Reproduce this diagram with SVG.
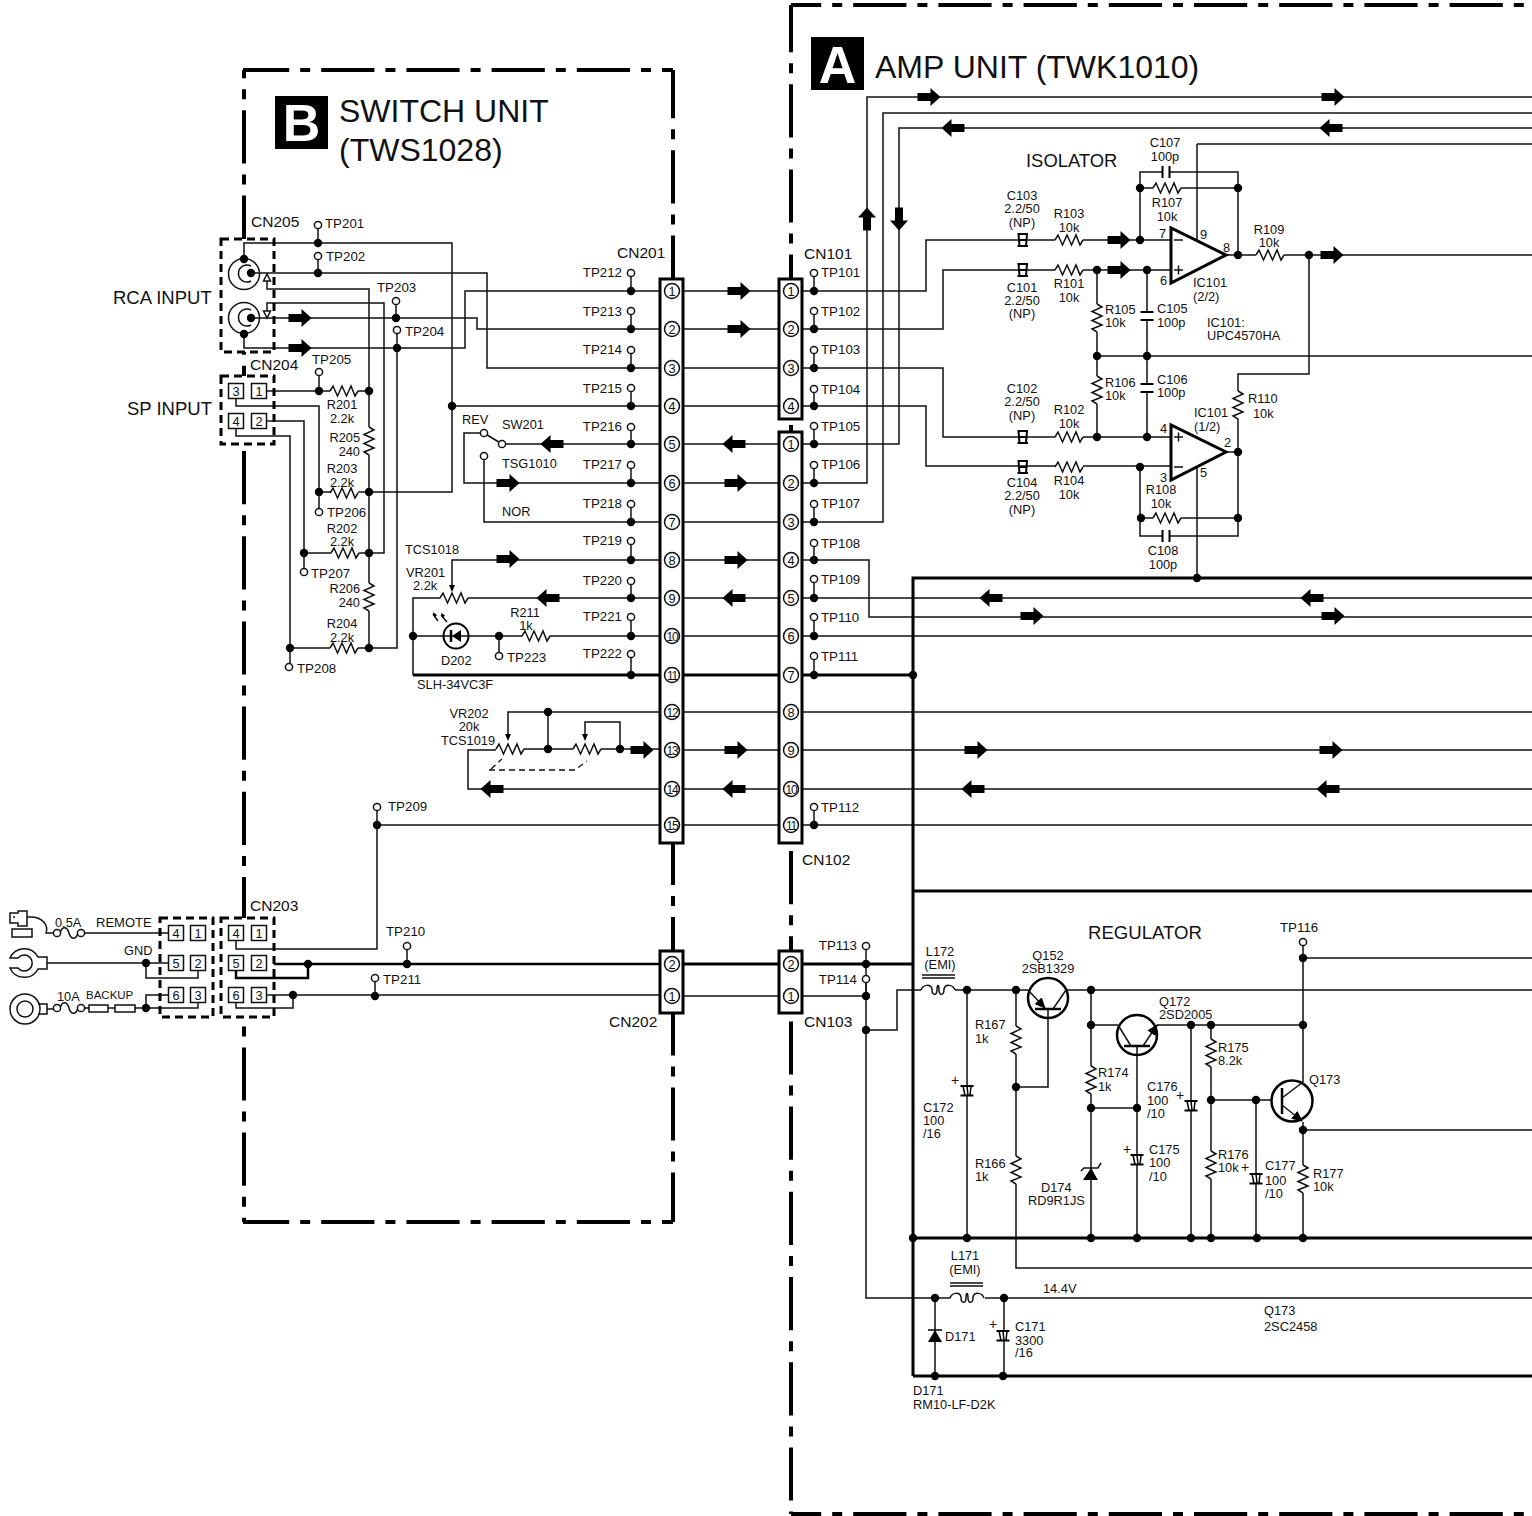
<svg xmlns="http://www.w3.org/2000/svg" width="1532" height="1516" viewBox="0 0 1532 1516">
<style>
text{font-family:"Liberation Sans",Arial,sans-serif;font-size:12.800px;fill:#111}
.tp{font-size:13.300px}
.m{text-anchor:middle}
.e{text-anchor:end}
.cn{font-size:15.500px}
.big{font-size:18.400px}
.ttl{font-size:32px}
.pin{font-size:12.800px;text-anchor:middle}
.pin2{font-size:12px;text-anchor:middle;letter-spacing:-1.200px}
.w{fill:none;stroke:#111;stroke-width:1.500}
.t{fill:none;stroke:#000;stroke-width:3}
.fr{fill:none;stroke:#000;stroke-width:4;stroke-dasharray:53.200 11 10 11}
.db{fill:none;stroke:#000;stroke-width:3;stroke-dasharray:8 5}
.box{fill:none;stroke:#000;stroke-width:3}
.pb{fill:#fff;stroke:#111;stroke-width:1.500}
.oa{fill:#fff;stroke:#000;stroke-width:3;stroke-linejoin:miter}
.tr{fill:none;stroke:#000;stroke-width:2.500}
.dash{fill:none;stroke:#111;stroke-width:1.300;stroke-dasharray:6 4}
.ltr{font-size:52px;font-weight:bold;fill:#fff;text-anchor:middle}
</style>
<defs>
<circle id="d" r="4.200" fill="#000"/>
<circle id="o" r="3.600" fill="#fff" stroke="#111" stroke-width="1.500"/>
<circle id="p" r="7.500" fill="#fff" stroke="#111" stroke-width="1.500"/>
<path id="a" d="M-11.500-4H1.500V-9L11.500 0 1.500 9V4H-11.500Z" fill="#000"/>
<g id="r"><rect x="-14" y="-2" width="28" height="4" fill="#fff"/><path class="w" d="M-14 0l3-5 4.500 10 4.500-10 4.500 10 4.500-10 4 10 3-5"/></g>
<g id="np"><path d="M-4.500-6L-3.500 6M4-6L3 6M-5.500-6H5M-4 0H4M-5.500 6H5" fill="none" stroke="#000" stroke-width="2"/></g>
<g id="pc"><rect x="-6.500" y="-5" width="13" height="10" fill="#fff"/><path d="M-6.500-5H6.500M-6.500 4.500H6.500" fill="none" stroke="#000" stroke-width="2.200"/><path d="M-4-5L-2 4.500M0-5L1 4.500M4-5L3 4.500" fill="none" stroke="#000" stroke-width="1.500"/></g>
<g id="ch"><rect x="-3.500" y="-3" width="7" height="6" fill="#fff"/><path d="M-3.500-6V6M3.500-6V6" fill="none" stroke="#000" stroke-width="2"/></g>
<g id="cv"><rect x="-3" y="-4" width="6" height="8" fill="#fff"/><path d="M-6.500-4H6.500M-6.500 4H6.500" fill="none" stroke="#000" stroke-width="2"/></g>
<path id="coil" class="w" d="M-17 0C-15-6-7-6-6-1C-6 6-1 6-1 0C-1-6 1-6 1 0C1 6 6 6 6-1C7-6 15-6 17 0"/>
<marker id="ah" markerWidth="12" markerHeight="10" refX="10" refY="5" orient="auto" markerUnits="userSpaceOnUse"><path d="M0 0L11 5 0 10Z" fill="#000"/></marker>
</defs>

<g id="frames">
<path class="fr" d="M791 5H1532" stroke-dashoffset="23"/>
<path class="fr" d="M791 5V1514" stroke-dashoffset="6"/>
<path class="fr" d="M791 1514H1532" stroke-dashoffset="23"/>
<path class="fr" d="M243 70H673" stroke-dashoffset="7"/>
<path class="fr" d="M244 70V1222" stroke-dashoffset="45"/>
<path class="fr" d="M673 70V1222" stroke-dashoffset="5"/>
<path class="fr" d="M243 1222H673" stroke-dashoffset="7"/>
<g fill="#fff">
<rect x="221" y="239" width="53" height="113"/><rect x="221" y="376" width="53" height="68"/><rect x="221" y="918" width="53" height="99"/>
<rect x="660" y="279" width="23" height="564"/><rect x="660" y="951" width="23" height="62"/>
<rect x="779" y="279" width="23" height="140"/><rect x="779" y="432" width="23" height="411"/><rect x="779" y="951" width="23" height="62"/>
</g>
</g>

<g id="title-A"><rect x="811" y="37" width="53" height="53" fill="#000"/><text x="837.500" y="83" class="ltr">A</text><text x="875" y="78" class="ttl">AMP UNIT (TWK1010)</text></g>
<g id="title-B"><rect x="275" y="96" width="53" height="53" fill="#000"/><text x="301.500" y="141" class="ltr">B</text><text x="339" y="122" class="ttl">SWITCH UNIT</text><text x="339" y="161" class="ttl">(TWS1028)</text></g>

<g id="connectors">
<path class="w" d="M244 259V243H452V492H369M452 406H660M251 273H487V368H660M267 281V289H369V492M267 311V303H384V553H369M251 318H477V329H660M244 334V348H465V291H660"/>
<path class="w" d="M267 391H369M236 399V406H319V492H369M267 421H304V553H369M236 429V436H290V648H369M369 492V648M397 348V648H369"/>
<path class="w" d="M503 444H660M484 433H464V483H660M484 456V522H660M452 590V560H660M440 598H660M440 598H413V675M413 636H443M469 636H660"/>
<path class="t" d="M413 675H660"/>
<path class="w" d="M660 712H508V739M548 712V749M497 750H468V789H660M523 749H574M600 749H660M585 739V722H620V749"/>
<path class="w" d="M377 825H660M377 825V949H236V941"/>
<path class="w" d="M683 291H779M683 329H779M683 368H779M683 406H779M683 444H779M683 483H779M683 522H779M683 560H779M683 598H779M683 636H779M683 712H779M683 750H779M683 789H779M683 825H779M683 996H779"/>
<path class="t" d="M683 675H779M683 964H779"/>
<path class="w" d="M802 291H926V240H1171M802 329H943V270H1171M802 368H943V437H1171M802 406H926V466H1171M802 444H899V128H1532M802 483H867V97H1532M802 522H883V113H1532"/>
<path class="w" d="M802 560H869V617H1532M802 598H1532M802 636H1532M802 712H1532M802 750H1532M802 789H1532M802 825H1532"/>
<path class="t" d="M802 675H913M802 964H913M913 1376V578H1532M913 891H1532M913 1238H1532M913 1376H1532"/>
<path class="w" d="M1140 240V172H1238V255M1140 188H1238M1197 144H1532M1197 144V244M1226 255H1532M1309 255V374H1238V452M1097 270V437M1147 270V437M1097 356H1532"/>
<path class="w" d="M1197 466V578M1226 452H1238V536H1140V467M1140 518H1238"/>
<path class="t" d="M274 964H660M236 971V978H308V964" style="stroke-width:2.500"/>
<path class="w" d="M267 995H660M236 1003V1008H293V995"/>
<path class="w" d="M85 933H168M47 963H168M146 963V978H198V971M47 1009H53M85 1008H89M108 1008H115M135 1008H146V995H168M146 1008H198V1003"/>
<path class="w" d="M802 996H866M866 964V1298H950M866 1030H897V990H921M985 1298H1532M955 990H1028M1066 990H1532M1016 990V1268H1532M1048 1009V1087H1016M967 990V1238M1091 990V1238M1091 1025H1118M1157 1025H1303M1137 1046V1238M1091 1108H1137M1191 1025V1238M1211 1025V1238M1211 1100H1271M1256 1100V1238M1303 958V1082M1303 958H1532M1303 1122V1238M1303 1130H1532M935 1298V1376M1004 1298V1376"/>
<g id="junctions">
<use href="#d" x="318" y="243"/><use href="#d" x="318" y="273"/><use href="#d" x="396" y="318"/><use href="#d" x="397" y="348"/><use href="#d" x="452" y="406"/>
<use href="#d" x="319" y="391"/><use href="#d" x="369" y="391"/><use href="#d" x="319" y="492"/><use href="#d" x="369" y="492"/><use href="#d" x="304" y="553"/><use href="#d" x="369" y="553"/><use href="#d" x="290" y="648"/><use href="#d" x="369" y="648"/>
<use href="#d" x="631" y="291"/><use href="#d" x="631" y="329"/><use href="#d" x="631" y="368"/><use href="#d" x="631" y="406"/><use href="#d" x="631" y="444"/><use href="#d" x="631" y="483"/><use href="#d" x="631" y="522"/><use href="#d" x="631" y="560"/><use href="#d" x="631" y="598"/><use href="#d" x="631" y="636"/><use href="#d" x="631" y="675"/>
<use href="#d" x="814" y="291"/><use href="#d" x="814" y="329"/><use href="#d" x="814" y="368"/><use href="#d" x="814" y="406"/><use href="#d" x="814" y="444"/><use href="#d" x="814" y="483"/><use href="#d" x="814" y="522"/><use href="#d" x="814" y="560"/><use href="#d" x="814" y="598"/><use href="#d" x="814" y="636"/><use href="#d" x="814" y="675"/><use href="#d" x="814" y="825"/>
<use href="#d" x="413" y="636"/><use href="#d" x="499" y="636"/><use href="#d" x="548" y="712"/><use href="#d" x="548" y="749"/><use href="#d" x="620" y="749"/><use href="#d" x="377" y="825"/>
<use href="#d" x="308" y="964"/><use href="#d" x="293" y="995"/><use href="#d" x="407" y="964"/><use href="#d" x="375" y="996"/><use href="#d" x="146" y="963"/><use href="#d" x="146" y="1008"/>
<use href="#d" x="866" y="964"/><use href="#d" x="866" y="996"/><use href="#d" x="866" y="1030"/><use href="#d" x="913" y="675"/>
<use href="#d" x="1140" y="240"/><use href="#d" x="1097" y="270"/><use href="#d" x="1147" y="270"/><use href="#d" x="1140" y="188"/><use href="#d" x="1238" y="188"/><use href="#d" x="1238" y="255"/><use href="#d" x="1309" y="255"/><use href="#d" x="1097" y="356"/><use href="#d" x="1147" y="356"/><use href="#d" x="1097" y="437"/><use href="#d" x="1147" y="437"/><use href="#d" x="1140" y="467"/><use href="#d" x="1141" y="518"/><use href="#d" x="1238" y="518"/><use href="#d" x="1238" y="452"/><use href="#d" x="1197" y="578"/>
<use href="#d" x="967" y="990"/><use href="#d" x="1016" y="990"/><use href="#d" x="1091" y="990"/><use href="#d" x="1016" y="1087"/><use href="#d" x="1091" y="1025"/><use href="#d" x="1191" y="1025"/><use href="#d" x="1211" y="1025"/><use href="#d" x="1303" y="1025"/><use href="#d" x="1091" y="1108"/><use href="#d" x="1137" y="1108"/><use href="#d" x="1211" y="1100"/><use href="#d" x="1256" y="1100"/><use href="#d" x="1303" y="1130"/><use href="#d" x="1303" y="958"/>
<use href="#d" x="913" y="1238"/><use href="#d" x="967" y="1238"/><use href="#d" x="1091" y="1238"/><use href="#d" x="1137" y="1238"/><use href="#d" x="1191" y="1238"/><use href="#d" x="1211" y="1238"/><use href="#d" x="1257" y="1238"/><use href="#d" x="1303" y="1238"/>
<use href="#d" x="935" y="1298"/><use href="#d" x="1004" y="1298"/><use href="#d" x="935" y="1376"/><use href="#d" x="1003" y="1376"/>
</g>
<g id="arrows">
<use href="#a" x="929" y="97"/><use href="#a" x="1333" y="97"/>
<use href="#a" transform="translate(953 128) rotate(180)"/><use href="#a" transform="translate(1331 128) rotate(180)"/>
<use href="#a" transform="translate(867 219) rotate(-90)"/><use href="#a" transform="translate(899 219) rotate(90)"/>
<use href="#a" x="1119" y="240"/><use href="#a" x="1119" y="270"/><use href="#a" x="1332" y="255"/>
<use href="#a" x="739" y="291"/><use href="#a" x="739" y="329"/>
<use href="#a" transform="translate(734 444) rotate(180)"/><use href="#a" transform="translate(552 444) rotate(180)"/>
<use href="#a" x="736" y="483"/><use href="#a" x="508" y="483"/><use href="#a" x="508" y="559"/><use href="#a" x="736" y="560"/>
<use href="#a" transform="translate(734 598) rotate(180)"/><use href="#a" transform="translate(548 598) rotate(180)"/>
<use href="#a" transform="translate(991 598) rotate(180)"/><use href="#a" transform="translate(1312 598) rotate(180)"/>
<use href="#a" x="1032" y="616"/><use href="#a" x="1333" y="616"/>
<use href="#a" x="642" y="750"/><use href="#a" x="736" y="750"/><use href="#a" x="976" y="750"/><use href="#a" x="1331" y="750"/>
<use href="#a" transform="translate(492 789) rotate(180)"/><use href="#a" transform="translate(734 789) rotate(180)"/><use href="#a" transform="translate(973 789) rotate(180)"/><use href="#a" transform="translate(1328 789) rotate(180)"/>
<use href="#a" x="300" y="318"/><use href="#a" x="300" y="348"/>
</g>
</g>

<g id="CN201"><rect class="box" x="660" y="279" width="23" height="564"/>
<use href="#p" x="672" y="291"/><use href="#p" x="672" y="329"/><use href="#p" x="672" y="368"/><use href="#p" x="672" y="406"/><use href="#p" x="672" y="444"/><use href="#p" x="672" y="483"/><use href="#p" x="672" y="522"/><use href="#p" x="672" y="560"/><use href="#p" x="672" y="598"/><use href="#p" x="672" y="636"/><use href="#p" x="672" y="675"/><use href="#p" x="672" y="712"/><use href="#p" x="672" y="750"/><use href="#p" x="672" y="789"/><use href="#p" x="672" y="825"/>
<text class="pin" x="672" y="295.500">1</text><text class="pin" x="672" y="333.500">2</text><text class="pin" x="672" y="372.500">3</text><text class="pin" x="672" y="410.500">4</text><text class="pin" x="672" y="448.500">5</text><text class="pin" x="672" y="487.500">6</text><text class="pin" x="672" y="526.500">7</text><text class="pin" x="672" y="564.500">8</text><text class="pin" x="672" y="602.500">9</text>
<text class="pin2" x="672" y="640.500">10</text><text class="pin2" x="672" y="679.500">11</text><text class="pin2" x="672" y="716.500">12</text><text class="pin2" x="672" y="754.500">13</text><text class="pin2" x="672" y="793.500">14</text><text class="pin2" x="672" y="829.500">15</text>
<text class="cn" x="617" y="258">CN201</text></g>
<g id="CN101"><rect class="box" x="779" y="279" width="23" height="140"/>
<use href="#p" x="791" y="291"/><use href="#p" x="791" y="329"/><use href="#p" x="791" y="368"/><use href="#p" x="791" y="406"/>
<text class="pin" x="791" y="295.500">1</text><text class="pin" x="791" y="333.500">2</text><text class="pin" x="791" y="372.500">3</text><text class="pin" x="791" y="410.500">4</text>
<text class="cn" x="804" y="259">CN101</text></g>
<g id="CN102"><rect class="box" x="779" y="432" width="23" height="411"/>
<use href="#p" x="791" y="444"/><use href="#p" x="791" y="483"/><use href="#p" x="791" y="522"/><use href="#p" x="791" y="560"/><use href="#p" x="791" y="598"/><use href="#p" x="791" y="636"/><use href="#p" x="791" y="675"/><use href="#p" x="791" y="712"/><use href="#p" x="791" y="750"/><use href="#p" x="791" y="789"/><use href="#p" x="791" y="825"/>
<text class="pin" x="791" y="448.500">1</text><text class="pin" x="791" y="487.500">2</text><text class="pin" x="791" y="526.500">3</text><text class="pin" x="791" y="564.500">4</text><text class="pin" x="791" y="602.500">5</text><text class="pin" x="791" y="640.500">6</text><text class="pin" x="791" y="679.500">7</text><text class="pin" x="791" y="716.500">8</text><text class="pin" x="791" y="754.500">9</text>
<text class="pin2" x="791" y="793.500">10</text><text class="pin2" x="791" y="829.500">11</text>
<text class="cn" x="802" y="865">CN102</text></g>
<g id="CN202"><rect class="box" x="660" y="951" width="23" height="62"/><use href="#p" x="672" y="964"/><use href="#p" x="672" y="996"/><text class="pin" x="672" y="968.500">2</text><text class="pin" x="672" y="1000.500">1</text><text class="cn" x="609" y="1027">CN202</text></g>
<g id="CN103"><rect class="box" x="779" y="951" width="23" height="62"/><use href="#p" x="791" y="964"/><use href="#p" x="791" y="996"/><text class="pin" x="791" y="968.500">2</text><text class="pin" x="791" y="1000.500">1</text><text class="cn" x="804" y="1027">CN103</text></g>

<g id="CN205"><rect class="db" x="221" y="239" width="53" height="113"/>
<circle cx="244" cy="274" r="15.500" class="w"/><path class="w" d="M251 266A8.500 8.500 0 1 0 251 281"/>
<circle cx="244" cy="318" r="15.500" class="w"/><path class="w" d="M251 310A8.500 8.500 0 1 0 251 325"/>
<use href="#d" x="244" y="259"/><use href="#d" x="251" y="273"/><use href="#d" x="251" y="318"/><use href="#d" x="244" y="334"/>
<path d="M267 274L263.500 281H270.500ZM267 318L263.500 311H270.500Z" class="pb"/>
<text class="cn" x="251" y="227">CN205</text><text x="113" y="304" style="font-size:18.500px">RCA INPUT</text></g>
<g id="CN204"><rect class="db" x="221" y="376" width="53" height="68"/>
<rect class="pb" x="228.500" y="383.500" width="15" height="15"/><rect class="pb" x="251.500" y="383.500" width="15" height="15"/><rect class="pb" x="228.500" y="413.500" width="15" height="15"/><rect class="pb" x="251.500" y="413.500" width="15" height="15"/>
<text class="pin" x="236" y="396">3</text><text class="pin" x="259" y="396">1</text><text class="pin" x="236" y="426">4</text><text class="pin" x="259" y="426">2</text>
<text class="cn" x="250" y="370">CN204</text><text x="127" y="415" style="font-size:18.500px">SP INPUT</text></g>
<g id="CN203"><rect class="db" x="221" y="918" width="53" height="99"/>
<rect class="pb" x="228.500" y="925.500" width="15" height="15"/><rect class="pb" x="251.500" y="925.500" width="15" height="15"/><rect class="pb" x="228.500" y="955.500" width="15" height="15"/><rect class="pb" x="251.500" y="955.500" width="15" height="15"/><rect class="pb" x="228.500" y="987.500" width="15" height="15"/><rect class="pb" x="251.500" y="987.500" width="15" height="15"/>
<text class="pin" x="236" y="938">4</text><text class="pin" x="259" y="938">1</text><text class="pin" x="236" y="968">5</text><text class="pin" x="259" y="968">2</text><text class="pin" x="236" y="1000">6</text><text class="pin" x="259" y="1000">3</text>
<text class="cn" x="250" y="911">CN203</text></g>
<g id="CN-plug"><rect class="db" x="160" y="918" width="53" height="99"/>
<rect class="pb" x="168.500" y="925.500" width="15" height="15"/><rect class="pb" x="190.500" y="925.500" width="15" height="15"/><rect class="pb" x="168.500" y="955.500" width="15" height="15"/><rect class="pb" x="190.500" y="955.500" width="15" height="15"/><rect class="pb" x="168.500" y="987.500" width="15" height="15"/><rect class="pb" x="190.500" y="987.500" width="15" height="15"/>
<text class="pin" x="176" y="938">4</text><text class="pin" x="198" y="938">1</text><text class="pin" x="176" y="968">5</text><text class="pin" x="198" y="968">2</text><text class="pin" x="176" y="1000">6</text><text class="pin" x="198" y="1000">3</text></g>

<g id="REMOTE"><path class="w" d="M10 913H18V911H27V926H18V923H10ZM13 917H15M27 917H31C42 917 49 925 46 933H60M12 929H32V937H12Z"/><path class="w" d="M60 933C62 926 67 926 69 933C71 940 76 940 78 933"/><use href="#o" x="57" y="933"/><use href="#o" x="81" y="933"/><text x="55" y="927">0.5A</text><text x="96" y="927" style="font-size:13px">REMOTE</text></g>
<g id="GND"><path class="w" d="M10 958A15.500 15.500 0 0 1 38 957H47V969H38A15.500 15.500 0 0 1 10 968H18A8 8 0 1 0 18 958Z"/><text x="124" y="955">GND</text></g>
<g id="BACKUP"><circle class="w" cx="25" cy="1009" r="15"/><circle class="w" cx="25" cy="1009" r="8"/><path class="w" d="M38 1004H47V1014H38"/><path class="w" d="M60 1008C62 1001 67 1001 69 1008C71 1015 76 1015 78 1008"/><use href="#o" x="57" y="1008"/><use href="#o" x="81" y="1008"/><rect class="pb" x="89" y="1005" width="19" height="7"/><rect class="pb" x="115" y="1005" width="20" height="7"/><text x="57" y="1001">10A</text><text x="86" y="999" style="font-size:11.500px">BACKUP</text></g>

<g id="TP201"><path class="w" d="M318 225V243"/><use href="#o" x="318" y="225"/><text class="tp" x="325" y="228">TP201</text></g>
<g id="TP202"><path class="w" d="M318 256V273"/><use href="#o" x="318" y="256"/><text class="tp" x="326" y="261">TP202</text></g>
<g id="TP203"><path class="w" d="M396 301V318"/><use href="#o" x="396" y="301"/><text class="tp" x="377" y="292">TP203</text></g>
<g id="TP204"><path class="w" d="M397 330V348"/><use href="#o" x="397" y="330"/><text class="tp" x="405" y="336">TP204</text></g>
<g id="TP205"><path class="w" d="M319 372V391"/><use href="#o" x="319" y="372"/><text class="tp" x="312" y="364">TP205</text></g>
<g id="TP206"><path class="w" d="M319 492V512"/><use href="#o" x="319" y="512"/><text class="tp" x="327" y="517">TP206</text></g>
<g id="TP207"><path class="w" d="M304 553V572"/><use href="#o" x="304" y="572"/><text class="tp" x="311" y="578">TP207</text></g>
<g id="TP208"><path class="w" d="M290 648V667"/><use href="#o" x="289" y="667"/><text class="tp" x="297" y="673">TP208</text></g>
<g id="TP209"><path class="w" d="M377 807V825"/><use href="#o" x="377" y="807"/><text class="tp" x="388" y="811">TP209</text></g>
<g id="TP210"><path class="w" d="M407 946V964"/><use href="#o" x="407" y="946"/><text class="tp" x="386" y="936">TP210</text></g>
<g id="TP211"><path class="w" d="M375 978V996"/><use href="#o" x="375" y="978"/><text class="tp" x="383" y="984">TP211</text></g>
<g id="TP212"><path class="w" d="M631 273V291"/><use href="#o" x="631" y="273"/><text class="tp e" x="622" y="277">TP212</text></g>
<g id="TP213"><path class="w" d="M631 311V329"/><use href="#o" x="631" y="311"/><text class="tp e" x="622" y="316">TP213</text></g>
<g id="TP214"><path class="w" d="M631 350V368"/><use href="#o" x="631" y="350"/><text class="tp e" x="622" y="354">TP214</text></g>
<g id="TP215"><path class="w" d="M631 388V406"/><use href="#o" x="631" y="388"/><text class="tp e" x="622" y="393">TP215</text></g>
<g id="TP216"><path class="w" d="M631 427V444"/><use href="#o" x="631" y="427"/><text class="tp e" x="622" y="431">TP216</text></g>
<g id="TP217"><path class="w" d="M631 465V483"/><use href="#o" x="631" y="465"/><text class="tp e" x="622" y="469">TP217</text></g>
<g id="TP218"><path class="w" d="M631 504V522"/><use href="#o" x="631" y="504"/><text class="tp e" x="622" y="508">TP218</text></g>
<g id="TP219"><path class="w" d="M631 541V560"/><use href="#o" x="631" y="541"/><text class="tp e" x="622" y="545">TP219</text></g>
<g id="TP220"><path class="w" d="M631 581V598"/><use href="#o" x="631" y="581"/><text class="tp e" x="622" y="585">TP220</text></g>
<g id="TP221"><path class="w" d="M631 617V636"/><use href="#o" x="631" y="617"/><text class="tp e" x="622" y="621">TP221</text></g>
<g id="TP222"><path class="w" d="M631 654V675"/><use href="#o" x="631" y="654"/><text class="tp e" x="622" y="658">TP222</text></g>
<g id="TP223"><path class="w" d="M499 636V656"/><use href="#o" x="499" y="656"/><text class="tp" x="507" y="662">TP223</text></g>
<g id="TP101"><path class="w" d="M814 273V291"/><use href="#o" x="814" y="273"/><text class="tp" x="821" y="277">TP101</text></g>
<g id="TP102"><path class="w" d="M814 311V329"/><use href="#o" x="814" y="311"/><text class="tp" x="821" y="316">TP102</text></g>
<g id="TP103"><path class="w" d="M814 350V368"/><use href="#o" x="814" y="350"/><text class="tp" x="821" y="354">TP103</text></g>
<g id="TP104"><path class="w" d="M814 389V406"/><use href="#o" x="814" y="389"/><text class="tp" x="821" y="394">TP104</text></g>
<g id="TP105"><path class="w" d="M814 426V444"/><use href="#o" x="814" y="426"/><text class="tp" x="821" y="431">TP105</text></g>
<g id="TP106"><path class="w" d="M814 465V483"/><use href="#o" x="814" y="465"/><text class="tp" x="821" y="469">TP106</text></g>
<g id="TP107"><path class="w" d="M814 504V522"/><use href="#o" x="814" y="504"/><text class="tp" x="821" y="508">TP107</text></g>
<g id="TP108"><path class="w" d="M814 543V560"/><use href="#o" x="814" y="543"/><text class="tp" x="821" y="548">TP108</text></g>
<g id="TP109"><path class="w" d="M814 579V598"/><use href="#o" x="814" y="579"/><text class="tp" x="821" y="584">TP109</text></g>
<g id="TP110"><path class="w" d="M814 617V636"/><use href="#o" x="814" y="617"/><text class="tp" x="821" y="622">TP110</text></g>
<g id="TP111"><path class="w" d="M814 656V675"/><use href="#o" x="814" y="656"/><text class="tp" x="821" y="661">TP111</text></g>
<g id="TP112"><path class="w" d="M814 807V825"/><use href="#o" x="814" y="807"/><text class="tp" x="821" y="812">TP112</text></g>
<g id="TP113"><path class="w" d="M866 946V964"/><use href="#o" x="866" y="946"/><text class="tp e" x="857" y="950">TP113</text></g>
<g id="TP114"><path class="w" d="M866 979V996"/><use href="#o" x="866" y="979"/><text class="tp e" x="857" y="984">TP114</text></g>
<g id="TP116"><path class="w" d="M1303 942V958"/><use href="#o" x="1303" y="942"/><text class="tp" x="1280" y="932">TP116</text></g>

<g id="R201"><use href="#r" x="344" y="391"/><text class="m" x="342" y="409">R201</text><text class="m" x="342" y="423">2.2k</text></g>
<g id="R205"><use href="#r" transform="translate(369 441) rotate(90)"/><text class="e" x="360" y="442">R205</text><text class="e" x="360" y="456">240</text></g>
<g id="R203"><use href="#r" x="344" y="493"/><text class="m" x="342" y="473">R203</text><text class="m" x="342" y="487">2.2k</text></g>
<g id="R202"><use href="#r" x="345" y="553"/><text class="m" x="342" y="533">R202</text><text class="m" x="342" y="546">2.2k</text></g>
<g id="R206"><use href="#r" transform="translate(369 597) rotate(90)"/><text class="e" x="360" y="593">R206</text><text class="e" x="360" y="607">240</text></g>
<g id="R204"><use href="#r" x="344" y="648"/><text class="m" x="342" y="628">R204</text><text class="m" x="342" y="642">2.2k</text></g>

<g id="SW201"><path class="w" d="M484 433L502 444"/><use href="#o" x="484" y="433"/><use href="#o" x="502" y="444"/><use href="#o" x="484" y="456"/><text x="462" y="424">REV</text><text x="502" y="429">SW201</text><text x="502" y="468">TSG1010</text><text x="502" y="516">NOR</text></g>
<g id="VR201"><use href="#r" x="454" y="598"/><path d="M452 592l-3-7h6Z" fill="#000"/><text x="405" y="554">TCS1018</text><text x="406" y="577">VR201</text><text x="413" y="590">2.2k</text></g>
<g id="D202"><circle cx="456" cy="636" r="12.500" fill="#fff" stroke="#000" stroke-width="2"/><path d="M443 636H469" class="w"/><path d="M461 630V642L452 636Z" fill="#000"/><path d="M451 630V642" stroke="#000" stroke-width="2.500"/><path class="w" d="M447 622L441 615M438 621L433 614"/><path d="M433 612l4 3-2.500 2.500ZM441 612.500l4 3-2.500 2.500Z" fill="#000"/><text x="441" y="665">D202</text></g>
<g id="R211"><use href="#r" x="536" y="636"/><text class="m" x="525" y="617">R211</text><text class="m" x="526" y="630">1k</text></g>
<text x="417" y="689" id="SLH">SLH-34VC3F</text>
<g id="VR202"><use href="#r" x="510" y="749"/><use href="#r" x="587" y="749"/><path d="M508 741l-3-7h6ZM585 741l-3-7h6Z" fill="#000"/><path class="dash" d="M491 769L502 759M489 770H575L587 761"/><text class="m" x="469" y="718">VR202</text><text class="m" x="469" y="731">20k</text><text x="441" y="745">TCS1019</text></g>

<g id="C103"><use href="#np" x="1023" y="240"/><text class="m" x="1022" y="200">C103</text><text class="m" x="1022" y="213">2.2/50</text><text class="m" x="1022" y="227">(NP)</text></g>
<g id="R103"><use href="#r" x="1069" y="240"/><text class="m" x="1069" y="218">R103</text><text class="m" x="1069" y="232">10k</text></g>
<g id="C101"><use href="#np" x="1023" y="270"/><text class="m" x="1022" y="292">C101</text><text class="m" x="1022" y="305">2.2/50</text><text class="m" x="1022" y="318">(NP)</text></g>
<g id="R101"><use href="#r" x="1069" y="270"/><text class="m" x="1069" y="288">R101</text><text class="m" x="1069" y="302">10k</text></g>
<g id="C107"><use href="#ch" x="1166" y="172"/><text class="m" x="1165" y="147">C107</text><text class="m" x="1165" y="161">100p</text></g>
<g id="R107"><use href="#r" x="1167" y="188"/><text class="m" x="1167" y="207">R107</text><text class="m" x="1167" y="221">10k</text></g>
<g id="IC101-2"><path class="oa" d="M1171 228V283L1226 255Z"/><path class="w" d="M1174 240H1183M1174 270H1183M1178.500 265.500V274.500"/><text x="1159" y="238">7</text><text x="1200" y="239">9</text><text x="1223" y="252">8</text><text x="1160" y="285">6</text><text x="1193" y="287">IC101</text><text x="1193" y="301">(2/2)</text></g>
<g id="R105"><use href="#r" transform="translate(1097 318) rotate(90)"/><text x="1105" y="314">R105</text><text x="1105" y="327">10k</text></g>
<g id="C105"><use href="#cv" x="1147" y="316"/><text x="1157" y="313">C105</text><text x="1157" y="327">100p</text></g>
<g id="R109"><use href="#r" x="1270" y="255"/><text class="m" x="1269" y="234">R109</text><text class="m" x="1269" y="247">10k</text></g>
<text x="1026" y="167" class="big" id="ISOLATOR">ISOLATOR</text>
<g id="IC101-note"><text x="1207" y="327">IC101:</text><text x="1207" y="340">UPC4570HA</text></g>
<g id="R106"><use href="#r" transform="translate(1097 390) rotate(90)"/><text x="1105" y="387">R106</text><text x="1105" y="400">10k</text></g>
<g id="C106"><use href="#cv" x="1147" y="388"/><text x="1157" y="384">C106</text><text x="1157" y="397">100p</text></g>
<g id="C102"><use href="#np" x="1023" y="437"/><text class="m" x="1022" y="393">C102</text><text class="m" x="1022" y="406">2.2/50</text><text class="m" x="1022" y="420">(NP)</text></g>
<g id="R102"><use href="#r" x="1069" y="437"/><text class="m" x="1069" y="414">R102</text><text class="m" x="1069" y="428">10k</text></g>
<g id="C104"><use href="#np" x="1023" y="467"/><text class="m" x="1022" y="487">C104</text><text class="m" x="1022" y="500">2.2/50</text><text class="m" x="1022" y="514">(NP)</text></g>
<g id="R104"><use href="#r" x="1069" y="467"/><text class="m" x="1069" y="485">R104</text><text class="m" x="1069" y="499">10k</text></g>
<g id="IC101-1"><path class="oa" d="M1171 425V480L1226 452Z"/><path class="w" d="M1174 437H1183M1178.500 432.500V441.500M1174 467H1183"/><text x="1160" y="433">4</text><text x="1160" y="482">3</text><text x="1224" y="447">2</text><text x="1200" y="477">5</text><text x="1194" y="417">IC101</text><text x="1194" y="431">(1/2)</text></g>
<g id="R110"><use href="#r" transform="translate(1238 405) rotate(90)"/><text x="1248" y="403">R110</text><text x="1253" y="418">10k</text></g>
<g id="R108"><use href="#r" x="1167" y="518"/><text class="m" x="1161" y="494">R108</text><text class="m" x="1161" y="508">10k</text></g>
<g id="C108"><use href="#ch" x="1166" y="536"/><text class="m" x="1163" y="555">C108</text><text class="m" x="1163" y="569">100p</text></g>

<g id="L172"><use href="#coil" x="938" y="990"/><path class="w" d="M922 975H955M922 978H955"/><text class="m" x="940" y="956">L172</text><text class="m" x="940" y="969">(EMI)</text></g>
<g id="C172"><use href="#pc" x="967" y="1091"/><text class="m" x="955" y="1085" style="font-size:14px">+</text><text x="923" y="1112">C172</text><text x="923" y="1125">100</text><text x="923" y="1138">/16</text></g>
<g id="R167"><use href="#r" transform="translate(1016 1040) rotate(90)"/><text x="975" y="1029">R167</text><text x="975" y="1043">1k</text></g>
<g id="R166"><use href="#r" transform="translate(1016 1170) rotate(90)"/><text x="975" y="1168">R166</text><text x="975" y="1181">1k</text></g>
<g id="Q152"><circle class="tr" cx="1048" cy="998" r="20"/><path class="tr" d="M1035 1009H1061"/><path class="w" d="M1028 990L1045 1008" marker-end="url(#ah)"/><path class="w" d="M1066 990L1053 1009"/><text class="m" x="1048" y="960">Q152</text><text class="m" x="1048" y="973">2SB1329</text></g>
<g id="Q172"><circle class="tr" cx="1137" cy="1035" r="20"/><path class="tr" d="M1124 1046H1150"/><path class="w" d="M1118 1025L1131 1046"/><path class="w" d="M1143 1046L1157 1025" marker-end="url(#ah)"/><text x="1159" y="1006">Q172</text><text x="1159" y="1019">2SD2005</text></g>
<g id="R174"><use href="#r" transform="translate(1091 1080) rotate(90)"/><text x="1098" y="1077">R174</text><text x="1098" y="1091">1k</text></g>
<g id="D174"><path d="M1083 1180L1091 1168 1098 1180Z" fill="#000"/><path class="w" d="M1081 1171L1084 1168H1098L1101 1163"/><text x="1041" y="1192">D174</text><text x="1028" y="1205">RD9R1JS</text></g>
<g id="C175"><use href="#pc" x="1137" y="1160"/><text class="m" x="1127" y="1154" style="font-size:14px">+</text><text x="1149" y="1154">C175</text><text x="1149" y="1167">100</text><text x="1149" y="1181">/10</text></g>
<g id="C176"><use href="#pc" x="1191" y="1106"/><text class="m" x="1180" y="1100" style="font-size:14px">+</text><text x="1147" y="1091">C176</text><text x="1147" y="1105">100</text><text x="1147" y="1118">/10</text></g>
<g id="R175"><use href="#r" transform="translate(1211 1053) rotate(90)"/><text x="1218" y="1052">R175</text><text x="1218" y="1065">8.2k</text></g>
<g id="R176"><use href="#r" transform="translate(1211 1165) rotate(90)"/><text x="1218" y="1159">R176</text><text x="1218" y="1172">10k</text></g>
<g id="C177"><use href="#pc" x="1256" y="1179"/><text class="m" x="1245" y="1172" style="font-size:14px">+</text><text x="1265" y="1170">C177</text><text x="1265" y="1185">100</text><text x="1265" y="1198">/10</text></g>
<g id="R177"><use href="#r" transform="translate(1303 1179) rotate(90)"/><text x="1313" y="1178">R177</text><text x="1313" y="1191">10k</text></g>
<g id="Q173"><circle class="tr" cx="1292" cy="1101" r="20.500"/><path class="tr" d="M1282 1088V1114"/><path class="w" d="M1282 1098L1303 1082"/><path class="w" d="M1282 1105L1302 1121" marker-end="url(#ah)"/><text x="1309" y="1084">Q173</text><text x="1264" y="1315">Q173</text><text x="1264" y="1331">2SC2458</text></g>
<text x="1088" y="939" style="font-size:18.600px" id="REGULATOR">REGULATOR</text>
<g id="L171"><use href="#coil" x="967" y="1298"/><path class="w" d="M950 1283H983M950 1286H983"/><text class="m" x="965" y="1260">L171</text><text class="m" x="965" y="1274">(EMI)</text></g>
<text x="1043" y="1293" id="V144">14.4V</text>
<g id="D171"><path d="M928 1342L935 1330 942 1342Z" fill="#000"/><path d="M928 1330H942" stroke="#000" stroke-width="1.500"/><text x="945" y="1341">D171</text><text x="913" y="1395">D171</text><text x="913" y="1409">RM10-LF-D2K</text></g>
<g id="C171"><use href="#pc" x="1003" y="1336"/><text class="m" x="993" y="1329" style="font-size:14px">+</text><text x="1015" y="1331">C171</text><text x="1015" y="1345">3300</text><text x="1015" y="1357">/16</text></g>
</svg>
